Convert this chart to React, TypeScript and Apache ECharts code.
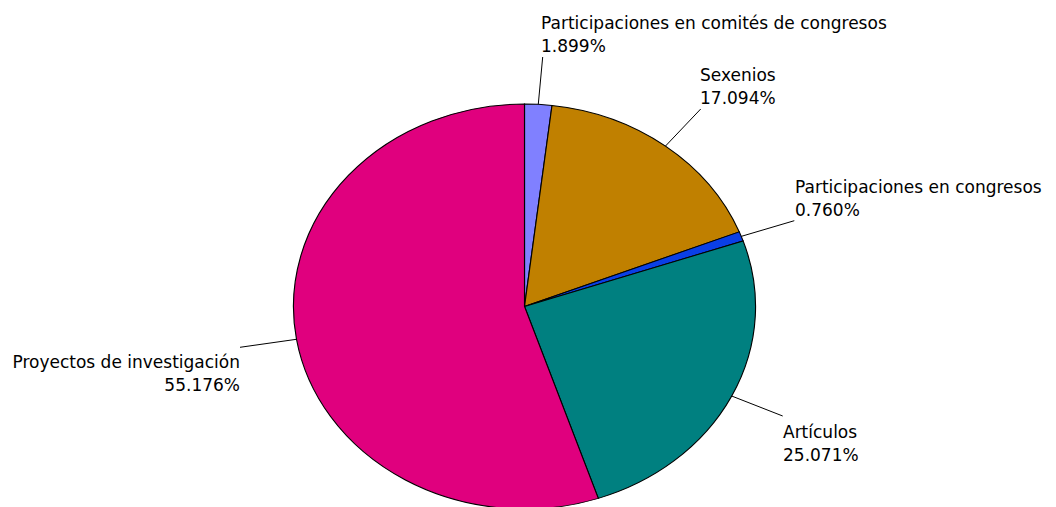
import React, { useEffect, useRef } from "react";
import * as echarts from "echarts";

const categories = [
  "Participaciones en comités de congresos",
  "Sexenios",
  "Participaciones en congresos",
  "Artículos",
  "Proyectos de investigación",
];
const values = [1.899, 17.094, 0.76, 25.071, 55.176];
const colors = ["#8080FF", "#C08000", "#0A3FE6", "#008080", "#E0007E"];

// layout: ellipse geometry and label anchors
const CX = 524.5;
const CY = 306.5;
const RX = 231;
const RY = 202.5;
const lineEnds = [
  [542.7, 57],
  [700.7, 109],
  [794.3, 220.7],
  [782.7, 416],
  [240, 347.3],
];
const labelBoxes: { x: number; y: number; align: "left" | "right" }[] = [
  { x: 541, y: 11.5, align: "left" },
  { x: 700, y: 63.5, align: "left" },
  { x: 795, y: 175, align: "left" },
  { x: 783, y: 420, align: "left" },
  { x: 240, y: 350, align: "right" },
];

export default function App() {
  const ref = useRef<HTMLDivElement>(null);
  useEffect(() => {
    document.body.style.margin = "0";
    if (!ref.current) return;
    const chart = echarts.init(ref.current, undefined, { renderer: "svg" });
    const total = values.reduce((a, b) => a + b, 0);
    const starts: number[] = [];
    let acc = 0;
    values.forEach((v) => {
      starts.push(acc);
      acc += v;
    });
    chart.setOption({
      animation: false,
      backgroundColor: "#ffffff",
      series: [
        {
          type: "custom",
          coordinateSystem: "none",
          data: values.map((v, i) => [i, v]),
          renderItem: (params: any, api: any) => {
            const i = params.dataIndex;
            const v = api.value(1);
            const a0 = (starts[i] / total) * Math.PI * 2 - Math.PI / 2;
            const a1 = ((starts[i] + v) / total) * Math.PI * 2 - Math.PI / 2;
            const am = (a0 + a1) / 2;
            const sx = CX + RX * Math.cos(am);
            const sy = CY + RY * Math.sin(am);
            const box = labelBoxes[i];
            return {
              type: "group",
              children: [
                {
                  type: "sector",
                  x: CX,
                  y: CY,
                  scaleX: RX / RY,
                  shape: { cx: 0, cy: 0, r0: 0, r: RY, startAngle: a0, endAngle: a1, clockwise: true },
                  style: { fill: colors[i], stroke: "#000000", lineWidth: 1, strokeNoScale: true },
                },
                {
                  type: "line",
                  shape: { x1: sx, y1: sy, x2: lineEnds[i][0], y2: lineEnds[i][1] },
                  style: { stroke: "#000000", lineWidth: 1 },
                },
                {
                  type: "text",
                  style: {
                    text: categories[i] + "\n" + v.toFixed(3) + "%",
                    x: box.x,
                    y: box.y,
                    align: box.align,
                    verticalAlign: "top",
                    lineHeight: 23,
                    fontSize: 17,
                    fontFamily: "DejaVu Sans",
                    fill: "#000000",
                  },
                },
              ],
            };
          },
        },
      ],
    });
    return () => chart.dispose();
  }, []);
  return <div ref={ref} style={{ width: 1056, height: 507 }} />;
}
